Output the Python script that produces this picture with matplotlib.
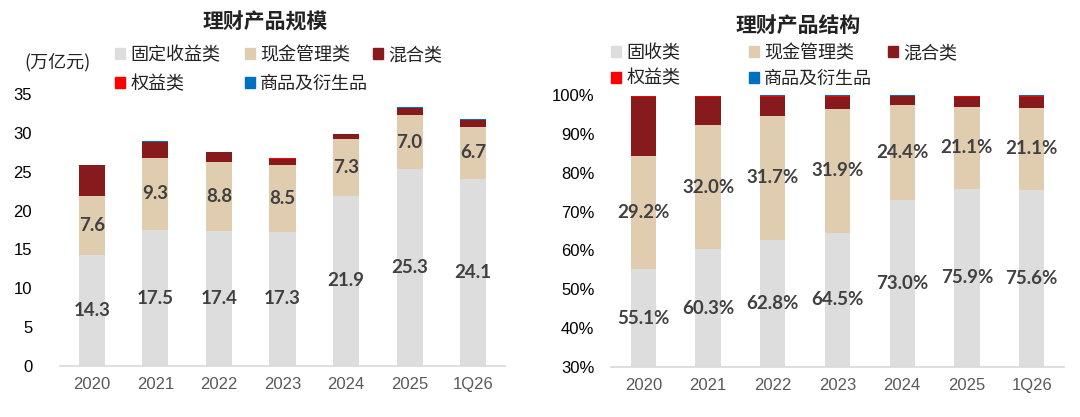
import numpy as np
import matplotlib.pyplot as plt
from matplotlib.patches import Patch

plt.rcParams['font.family'] = ['Noto Sans CJK SC', 'DejaVu Sans']

years = ['2020', '2021', '2022', '2023', '2024', '2025', '1Q26']

# 规模（万亿元）
scale_fixed = [14.3, 17.5, 17.4, 17.3, 21.9, 25.3, 24.1]
scale_cash = [7.6, 9.3, 8.8, 8.5, 7.3, 7.0, 6.7]
scale_mixed = [3.9, 2.0, 1.3, 0.9, 0.6, 0.9, 0.8]
scale_equity = [0.08, 0.08, 0.06, 0.05, 0.06, 0.06, 0.05]
scale_comm = [0.01, 0.01, 0.02, 0.02, 0.03, 0.04, 0.08]

# 结构（%）
share_fixed = [55.1, 60.3, 62.8, 64.5, 73.0, 75.9, 75.6]
share_cash = [29.2, 32.0, 31.7, 31.9, 24.4, 21.1, 21.1]
share_mixed = [15.1, 7.2, 5.1, 3.2, 2.3, 2.6, 2.9]
share_equity = [0.3, 0.3, 0.2, 0.2, 0.1, 0.1, 0.1]
share_comm = [0.05, 0.05, 0.1, 0.1, 0.1, 0.1, 0.2]

c_fixed = '#DDDDDD'
c_cash = '#E0CDB0'
c_mixed = '#861A1C'
c_equity = '#FF0000'
c_comm = '#0070C0'
label_color = '#404040'
num_font = dict(family=['Lato', 'DejaVu Sans'], fontweight='bold', fontsize=13.5, color=label_color)

fig = plt.figure(figsize=(10.8, 4.17), dpi=100)
ax1 = fig.add_axes([60 / 1080, 51 / 417, 445 / 1080, 272 / 417])
ax2 = fig.add_axes([611 / 1080, 50 / 417, 453 / 1080, 272 / 417])

x = np.arange(len(years))


def stack(ax, series, colors, width):
    bottom = np.zeros(len(years))
    for vals, col in zip(series, colors):
        vals = np.array(vals, dtype=float)
        ax.bar(x, vals, width, bottom=bottom, color=col, linewidth=0)
        bottom = bottom + vals


colors = [c_fixed, c_cash, c_mixed, c_equity, c_comm]
stack(ax1, [scale_fixed, scale_cash, scale_mixed, scale_equity, scale_comm], colors, 0.41)
stack(ax2, [share_fixed, share_cash, share_mixed, share_equity, share_comm], colors, 0.39)

# labels
for i in range(len(years)):
    ax1.text(x[i], scale_fixed[i] / 2, f'{scale_fixed[i]:.1f}', ha='center', va='center', **num_font)
    ax1.text(x[i], scale_fixed[i] + scale_cash[i] / 2, f'{scale_cash[i]:.1f}',
             ha='center', va='center', **num_font)
    ax2.text(x[i], (30 + share_fixed[i]) / 2, f'{share_fixed[i]:.1f}%', ha='center', va='center', **num_font)
    ax2.text(x[i], share_fixed[i] + share_cash[i] / 2, f'{share_cash[i]:.1f}%',
             ha='center', va='center', **num_font)

ax1.set_ylim(0, 35)
ax1.set_yticks(range(0, 36, 5))
ax2.set_ylim(30, 100)
ax2.set_yticks(range(30, 101, 10))
ax2.set_yticklabels([f'{v}%' for v in range(30, 101, 10)])

for ax in (ax1, ax2):
    ax.set_xlim(-0.5, len(years) - 0.5)
    ax.set_xticks(x)
    ax.set_xticklabels(years)
    for s in ('top', 'right', 'left'):
        ax.spines[s].set_visible(False)
    ax.spines['bottom'].set_color('#D9D9D9')
    ax.spines['bottom'].set_linewidth(1.2)
    ax.tick_params(axis='both', length=0)
    ax.tick_params(axis='x', colors='#595959', labelsize=12, pad=8)
    ax.tick_params(axis='y', colors='black', labelsize=12)
    for lab in ax.get_xticklabels() + ax.get_yticklabels():
        lab.set_family(['Liberation Sans', 'DejaVu Sans'])
ax1.tick_params(axis='y', pad=20)
ax2.tick_params(axis='y', pad=12)

fig.text(265 / 1080, 1 - 22 / 417, '理财产品规模', ha='center', va='center', fontsize=15, fontweight='bold', color='#222222')
fig.text(798 / 1080, 1 - 25 / 417, '理财产品结构', ha='center', va='center', fontsize=15, fontweight='bold', color='#222222')
fig.text(57 / 1080, 1 - 62 / 417, '(万亿元)', ha='center', va='center', fontsize=13, color='#222222')


def column_legends(names, xs, y, spacing):
    handles = [Patch(color=c) for c in colors]
    groups = [[0, 3], [1, 4], [2]]
    for xpos, idx in zip(xs, groups):
        leg = fig.legend([handles[i] for i in idx], [names[i] for i in idx],
                         loc='upper left', bbox_to_anchor=(xpos / 1080, 1 - y / 417),
                         frameon=False, fontsize=13, handlelength=0.55, handleheight=0.55,
                         handletextpad=0.3, labelspacing=spacing, borderpad=0, borderaxespad=0)
        for t in leg.get_texts():
            t.set_color('#222222')


column_legends(['固定收益类', '现金管理类', '混合类', '权益类', '商品及衍生品'], [115, 245, 373], 46, 0.6)
column_legends(['固收类', '现金管理类', '混合类', '权益类', '商品及衍生品'], [611, 749, 888], 44, 0.42)

fig.savefig('out.png', dpi=100)
